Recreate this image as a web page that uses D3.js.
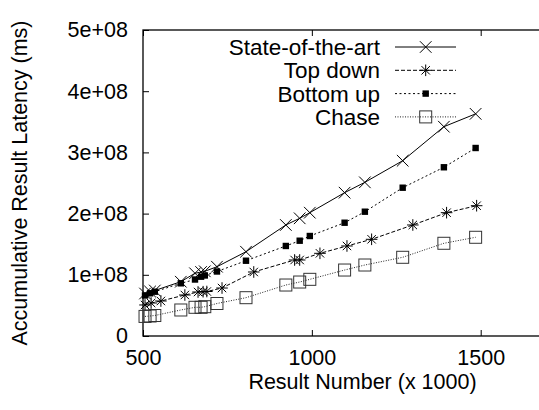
<!DOCTYPE html>
<html>
<head>
<meta charset="utf-8">
<script src="https://cdn.jsdelivr.net/npm/d3@7"></script>
<style>
  body { margin: 0; background: #fff; }
  svg { display: block; font-family: "Liberation Sans", Arial, sans-serif; }
  .axis text { font-size: 21.5px; fill: #000; }
  .label { font-size: 21.5px; fill: #000; }
  .legend .label { font-size: 22.5px; }
</style>
</head>
<body>
<div id="chart"></div>
<script>
// x values (result number, x 1000)
const resultNumbers = [506, 521, 535, 612, 654, 672, 683, 719, 805, 923, 964, 994, 1097, 1157, 1269, 1391, 1485];
const topDownNumbers = [506, 524, 553, 624, 663, 678, 689, 734, 828, 949, 964, 1024, 1104, 1177, 1299, 1399, 1488];

// accumulative latency (ms)
const stateOfTheArt = [6.94e7, 7.27e7, 7.43e7, 8.87e7, 1.025e8, 1.046e8, 1.057e8, 1.132e8, 1.377e8, 1.814e8, 1.923e8, 2.015e8, 2.342e8, 2.511e8, 2.864e8, 3.42e8, 3.63e8];
const topDown = [5.07e7, 5.39e7, 5.72e7, 6.7e7, 7.19e7, 7.24e7, 7.27e7, 7.84e7, 1.046e8, 1.242e8, 1.242e8, 1.351e8, 1.471e8, 1.58e8, 1.814e8, 2.015e8, 2.129e8];
const bottomUp = [6.62e7, 6.98e7, 7.24e7, 8.61e7, 9.23e7, 9.69e7, 9.89e7, 1.054e8, 1.23e8, 1.471e8, 1.557e8, 1.634e8, 1.851e8, 2.031e8, 2.423e8, 2.757e8, 3.072e8];
const chase = [3.2e7, 3.27e7, 3.35e7, 4.25e7, 4.69e7, 4.69e7, 4.79e7, 5.31e7, 6.26e7, 8.33e7, 8.82e7, 9.26e7, 1.078e8, 1.16e8, 1.286e8, 1.515e8, 1.613e8];

const xTicks = [500, 1000, 1500];
const yTicks = [0, 1e8, 2e8, 3e8, 4e8, 5e8];

const seriesNames = ['State-of-the-art', 'Top down', 'Bottom up', 'Chase'];

const W = 539, H = 410;
const margin = {top: 30, left: 143, bottom: 74};
const plotRight = 582;

const x = d3.scaleLinear().domain([500, 1800]).range([margin.left, plotRight]);
const y = d3.scaleLinear().domain([0, 5e8]).range([H - margin.bottom, margin.top]);

const series = [
    {name: seriesNames[0], xs: resultNumbers, ys: stateOfTheArt, dash: null, stroke: '#000', marker: 'cross'},
    {name: seriesNames[1], xs: topDownNumbers, ys: topDown, dash: '4,2', stroke: '#000', marker: 'star'},
    {name: seriesNames[2], xs: resultNumbers, ys: bottomUp, dash: '2,2.5', stroke: '#000', marker: 'fsquare'},
    {name: seriesNames[3], xs: resultNumbers, ys: chase, dash: '1,1.5', stroke: '#222', marker: 'osquare'}
];

const svg = d3.select('#chart').append('svg')
    .attr('width', W)
    .attr('height', H)
    .attr('viewBox', '0 0 ' + W + ' ' + H);

const tickLen = 6;
const fmtY = function(v) { return v === 0 ? '0' : (v / 1e8) + 'e+08'; };

// AXES (gnuplot style: ticks inward, mirrored)
svg.append('g')
    .attr('class', 'axis axis--x')
    .attr('transform', 'translate(0,' + y(0) + ')')
    .call(d3.axisBottom(x).tickValues(xTicks).tickFormat(d3.format('d')).tickSizeInner(-tickLen).tickSizeOuter(0).tickPadding(14))
    .call(function(g) { g.select('.domain').remove(); });

svg.append('g')
    .attr('class', 'axis axis--x-top')
    .attr('transform', 'translate(0,' + y(5e8) + ')')
    .call(d3.axisTop(x).tickValues(xTicks).tickSizeInner(-tickLen).tickSizeOuter(0).tickFormat(''))
    .call(function(g) { g.select('.domain').remove(); });

svg.append('g')
    .attr('class', 'axis axis--y')
    .attr('transform', 'translate(' + margin.left + ',0)')
    .call(d3.axisLeft(y).tickValues(yTicks).tickFormat(fmtY).tickSizeInner(-tickLen).tickSizeOuter(0).tickPadding(15))
    .call(function(g) { g.select('.domain').remove(); });

svg.selectAll('.axis line').attr('stroke', '#000').attr('stroke-width', 1);

// plot border
svg.append('rect')
    .attr('x', x(500))
    .attr('y', y(5e8))
    .attr('width', x(1800) - x(500))
    .attr('height', y(0) - y(5e8))
    .attr('fill', 'none')
    .attr('stroke', '#000')
    .attr('stroke-width', 1.3);

// AXIS LABELS
svg.append('text')
    .attr('class', 'label')
    .attr('text-anchor', 'middle')
    .attr('x', (x(500) + x(1800)) / 2)
    .attr('y', 389)
    .text('Result Number (x 1000)');

svg.append('text')
    .attr('class', 'label')
    .attr('text-anchor', 'middle')
    .attr('transform', 'translate(27,' + ((y(0) + y(5e8)) / 2) + ') rotate(-90)')
    .text('Accumulative Result Latency (ms)');

// markers
function drawMarker(g, type, stroke) {
    if (type === 'cross') {
        const s = 5.8;
        g.append('path').attr('d', 'M' + (-s) + ',' + (-s) + 'L' + s + ',' + s + 'M' + (-s) + ',' + s + 'L' + s + ',' + (-s))
            .attr('stroke', stroke).attr('stroke-width', 1).attr('fill', 'none');
    } else if (type === 'star') {
        const s = 5.8, d = 4.2;
        g.append('path').attr('d', 'M' + (-s) + ',0L' + s + ',0M0,' + (-s) + 'L0,' + s +
                'M' + (-d) + ',' + (-d) + 'L' + d + ',' + d + 'M' + (-d) + ',' + d + 'L' + d + ',' + (-d))
            .attr('stroke', stroke).attr('stroke-width', 1).attr('fill', 'none');
    } else if (type === 'fsquare') {
        g.append('rect').attr('x', -3.2).attr('y', -3.2).attr('width', 6.4).attr('height', 6.4).attr('fill', '#000');
    } else {
        g.append('rect').attr('x', -6).attr('y', -6).attr('width', 12).attr('height', 12)
            .attr('fill', 'none').attr('stroke', '#333').attr('stroke-width', 1);
    }
}

const plot = svg.append('g').attr('class', 'plot');

const line = d3.line()
    .x(function(d) { return x(d[0]); })
    .y(function(d) { return y(d[1]); });

series.forEach(function(s) {
    const pts = s.xs.map(function(v, i) { return [v, s.ys[i]]; });
    plot.append('path')
        .attr('class', 'line')
        .attr('d', line(pts))
        .attr('fill', 'none')
        .attr('stroke', s.stroke)
        .attr('stroke-width', 1)
        .attr('stroke-dasharray', s.dash);
    pts.forEach(function(p) {
        const g = plot.append('g').attr('transform', 'translate(' + x(p[0]) + ',' + y(p[1]) + ')');
        drawMarker(g, s.marker, s.stroke);
    });
});

// LEGEND
const legend = svg.append('g').attr('class', 'legend');
series.forEach(function(s, i) {
    const ly = 47 + i * 23.3;
    legend.append('text')
        .attr('class', 'label')
        .attr('text-anchor', 'end')
        .attr('x', 380)
        .attr('y', ly + 8)
        .text(s.name);
    legend.append('line')
        .attr('x1', 395).attr('x2', 456)
        .attr('y1', ly).attr('y2', ly)
        .attr('stroke', s.stroke)
        .attr('stroke-width', 1)
        .attr('stroke-dasharray', s.dash);
    drawMarker(legend.append('g').attr('transform', 'translate(425.7,' + ly + ')'), s.marker, s.stroke);
});
</script>
</body>
</html>
